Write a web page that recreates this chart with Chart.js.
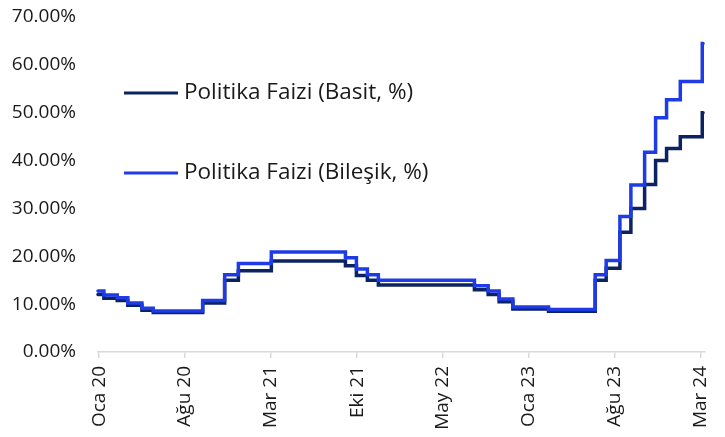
<!DOCTYPE html>
<html>
<head>
<meta charset="utf-8">
<script src="https://cdn.jsdelivr.net/npm/chart.js@4"></script>
<style>
  html, body { margin: 0; padding: 0; background: #fff; }
  #wrap { width: 725px; height: 437px; }
</style>
</head>
<body>
<div id="wrap"><canvas id="lineChart"></canvas></div>
<script>
// days since 1 Jan 2020 at which the policy rate changed
const changeDays = [0, 15, 49, 76, 112, 141, 267, 323, 358, 442, 631, 659, 687, 715,
  960, 995, 1023, 1058, 1149, 1268, 1296, 1331, 1359, 1394, 1422, 1450, 1485, 1541, 1543];

// policy rate, simple (%)
const simpleRate = [12, 11.25, 10.75, 9.75, 8.75, 8.25, 10.25, 15, 17, 19, 18, 16, 15, 14,
  13, 12, 10.5, 9, 8.5, 15, 17.5, 25, 30, 35, 40, 42.5, 45, 50, 50];

// policy rate, compounded weekly (%)
const compoundRate = [12.73, 11.89, 11.34, 10.23, 9.14, 8.59, 10.78, 16.16, 18.50, 20.88, 19.68, 17.32, 16.16, 15.01,
  13.86, 12.73, 11.06, 9.41, 8.86, 16.16, 19.10, 28.33, 34.87, 41.74, 48.96, 52.70, 56.53, 64.48, 64.48];

// x axis tick positions (days) and labels
const tickDays = [3, 222, 441, 661, 880, 1099, 1318, 1537];
const tickLabels = ['Oca 20', 'Ağu 20', 'Mar 21', 'Eki 21', 'May 22', 'Oca 23', 'Ağu 23', 'Mar 24'];

const seriesNames = ['Politika Faizi (Basit, %)', 'Politika Faizi (Bileşik, %)'];
const seriesColors = ['#0b2361', '#1f3be6'];

const FONT = '"Open Sans", "Noto Sans", sans-serif';

// legend drawn inside the plot, stacked with big gaps
const innerLegend = {
  id: 'innerLegend',
  afterDraw(chart) {
    const ctx = chart.ctx;
    const area = chart.chartArea;
    ctx.save();
    ctx.font = '22.5px ' + FONT;
    ctx.textBaseline = 'middle';
    ctx.fillStyle = '#1a1a1a';
    seriesNames.forEach((name, i) => {
      const y = area.top + 76 + i * 80;
      const x = area.left + 26;
      ctx.strokeStyle = seriesColors[i];
      ctx.lineWidth = 3;
      ctx.beginPath();
      ctx.moveTo(x, y);
      ctx.lineTo(x + 54, y);
      ctx.stroke();
      ctx.fillText(name, x + 60, y);
    });
    ctx.restore();
  }
};

new Chart(document.getElementById('lineChart'), {
  type: 'line',
  data: {
    datasets: [
      {
        label: seriesNames[0],
        data: changeDays.map((d, i) => ({ x: d, y: simpleRate[i] })),
        borderColor: seriesColors[0],
        clip: false,
        order: 1
      },
      {
        label: seriesNames[1],
        data: changeDays.map((d, i) => ({ x: d, y: compoundRate[i] })),
        borderColor: seriesColors[1],
        clip: false,
        order: 0
      }
    ]
  },
  options: {
    responsive: true,
    maintainAspectRatio: false,
    animation: false,
    layout: { padding: { top: 17, right: 20, left: 0, bottom: 0 } },
    elements: {
      line: { stepped: true, borderWidth: 3.5, borderCapStyle: 'round', borderJoinStyle: 'miter', fill: false },
      point: { radius: 0 }
    },
    plugins: {
      legend: { display: false },
      tooltip: { enabled: false }
    },
    scales: {
      x: {
        type: 'linear',
        min: 0,
        max: 1548,
        afterBuildTicks: axis => { axis.ticks = tickDays.map(v => ({ value: v })); },
        afterFit: axis => { axis.height = 85; axis.paddingLeft = 0; axis.paddingRight = 0; },
        ticks: {
          autoSkip: false,
          minRotation: 90,
          maxRotation: 90,
          padding: 8,
          color: '#1a1a1a',
          font: { family: FONT, size: 19 },
          callback: (v, i) => tickLabels[i]
        },
        grid: { drawOnChartArea: false, drawTicks: true, tickLength: 6, color: '#d9d9d9', lineWidth: 1.5 },
        border: { display: true, color: '#d9d9d9', width: 1.5 }
      },
      y: {
        min: 0,
        max: 70,
        afterFit: axis => { axis.width = 98; axis.paddingTop = 0; axis.paddingBottom = 0; },
        ticks: {
          stepSize: 10,
          padding: 22,
          color: '#1a1a1a',
          font: { family: FONT, size: 19 },
          callback: v => v.toFixed(2) + '%'
        },
        grid: { display: false, drawTicks: false },
        border: { display: false }
      }
    }
  },
  plugins: [innerLegend]
});
</script>
</body>
</html>
